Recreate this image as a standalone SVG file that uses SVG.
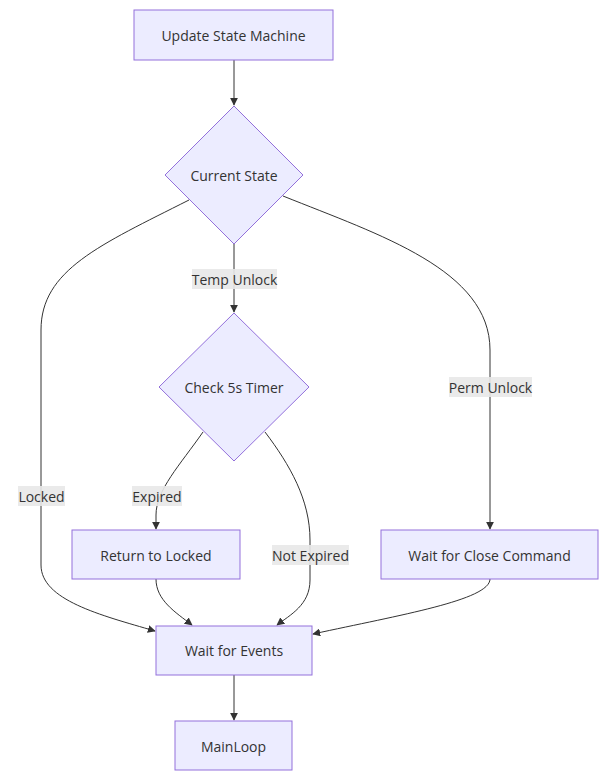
<svg xmlns="http://www.w3.org/2000/svg" width="607" height="778" viewBox="0 0 607 778">
<defs>
<style>
.node rect,.node polygon{fill:#ECECFF;stroke:#9370DB;stroke-width:1}
.node text{font-family:"Open Sans","Noto Sans",sans-serif;font-size:14px;fill:#333;text-anchor:middle;dominant-baseline:central}
.edge{fill:none;stroke:#333;stroke-width:1}
.lbl rect{fill:#E8E8E8;fill-opacity:0.9}
.lbl text{font-family:"Open Sans","Noto Sans",sans-serif;font-size:14px;fill:#333;text-anchor:middle;dominant-baseline:central}
</style>
<marker id="arr" viewBox="0 0 10 10" refX="9" refY="5" markerWidth="8" markerHeight="8" markerUnits="userSpaceOnUse" orient="auto">
<path d="M0,0 L10,5 L0,10 z" fill="#333"/>
</marker>
</defs>
<g id="connectors">
<path class="edge" d="M234,60 L234,105" marker-end="url(#arr)"/>
<path class="edge" d="M189,200 C100,245 41,270 41,330 L41,565 C41,600 100,615 155,631" marker-end="url(#arr)"/>
<path class="edge" d="M234,244 L234,312" marker-end="url(#arr)"/>
<path class="edge" d="M283,196 C380,235 490,270 490,350 L490,529" marker-end="url(#arr)"/>
<path class="edge" d="M203,432 C180,465 156,490 156,515 L156,529" marker-end="url(#arr)"/>
<path class="edge" d="M265,432 C290,465 310,500 310,540 L310,580 C310,605 290,615 277,625" marker-end="url(#arr)"/>
<path class="edge" d="M156,579 C156,600 175,612 192,625" marker-end="url(#arr)"/>
<path class="edge" d="M490,579 C490,600 400,615 313,634" marker-end="url(#arr)"/>
<path class="edge" d="M234,675 L234,720" marker-end="url(#arr)"/>
</g>
<g id="edge-labels">
<g class="lbl"><rect x="192" y="269" width="85" height="20"/><text x="234.5" y="279">Temp Unlock</text></g>
<g class="lbl"><rect x="18" y="486" width="47" height="20"/><text x="41.5" y="496">Locked</text></g>
<g class="lbl"><rect x="449" y="377" width="83" height="20"/><text x="490.5" y="387">Perm Unlock</text></g>
<g class="lbl"><rect x="132" y="486" width="50" height="20"/><text x="157" y="496">Expired</text></g>
<g class="lbl"><rect x="272" y="545" width="77" height="20"/><text x="310.5" y="555">Not Expired</text></g>
</g>
<g id="n-update" class="node"><rect x="134" y="10" width="199" height="50"/><text x="233.5" y="35">Update State Machine</text></g>
<g id="n-current" class="node"><polygon points="234,106 303,175 234,244 165,175"/><text x="234" y="175">Current State</text></g>
<g id="n-check" class="node"><polygon points="234,313 309,387 234,461 159,387"/><text x="234" y="387">Check 5s Timer</text></g>
<g id="n-return" class="node"><rect x="72" y="530" width="168" height="49"/><text x="156" y="555">Return to Locked</text></g>
<g id="n-close" class="node"><rect x="381" y="530" width="217" height="49"/><text x="489.5" y="555">Wait for Close Command</text></g>
<g id="n-events" class="node"><rect x="156" y="626" width="156" height="49"/><text x="234" y="650">Wait for Events</text></g>
<g id="n-main" class="node"><rect x="175" y="721" width="117" height="49"/><text x="233.5" y="746">MainLoop</text></g>
</svg>
